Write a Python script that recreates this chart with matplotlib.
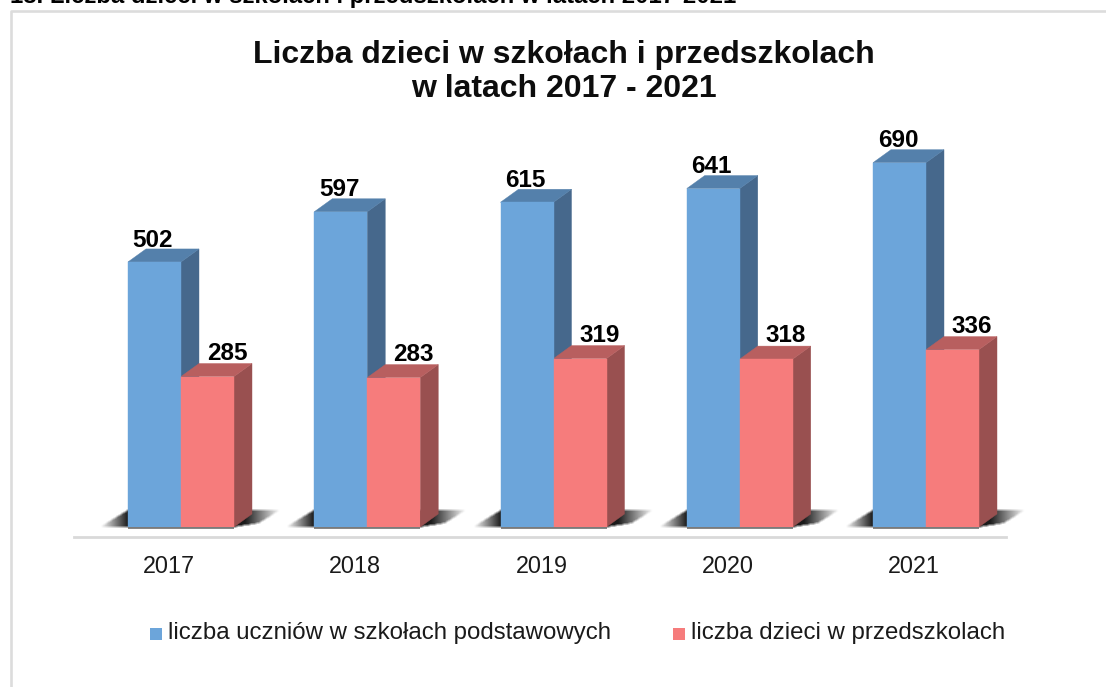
import numpy as np
import matplotlib
matplotlib.use("Agg")
import matplotlib.pyplot as plt
from matplotlib.patches import Polygon, Rectangle
from matplotlib.path import Path
from matplotlib.lines import Line2D

# ----------------------- DATA -----------------------
years = ["2017", "2018", "2019", "2020", "2021"]
uczniowie = [502, 597, 615, 641, 690]
przedszkola = [285, 283, 319, 318, 336]
label_uczniowie = "liczba uczniów w szkołach podstawowych"
label_przedszkola = "liczba dzieci w przedszkolach"
title = "Liczba dzieci w szkołach i przedszkolach\nw latach 2017 - 2021"
cut_heading = "18. Liczba dzieci w szkołach i przedszkolach w latach 2017-2021"

# ----------------------- CONFIG ----------------------
W, H = 1106, 687
px_per_group = 186.25
px_per_unit = 0.528
bar_w = 53 / px_per_group
dx = 18 / px_per_group
dy = 13 / px_per_unit
blue, blue_top, blue_side = "#6ca5da", "#5480ab", "#46688c"
red, red_top, red_side = "#f67c7c", "#b85f5f", "#995050"

plt.rcParams["font.family"] = ["Liberation Sans", "DejaVu Sans"]

fig = plt.figure(figsize=(W / 100, H / 100), dpi=100, facecolor="white")

# axes placed so that group centres and the baseline fall where the chart has them
left = 181 - px_per_group / 2
base_y = 527
top_y = base_y - 800 * px_per_unit
ax = fig.add_axes([left / W, 1 - base_y / H, 5 * px_per_group / W, (base_y - top_y) / H])
ax.axis("off")


def fig_xy(x, y):
    return x / W, 1 - y / H


def draw_bar(x0, v, front, top, side):
    ax.bar(x0, v, width=bar_w, align="edge", color=front, edgecolor=front, linewidth=0.3, zorder=4)
    x1 = x0 + bar_w
    ax.add_patch(Polygon([(x1, 0), (x1 + dx, dy), (x1 + dx, v + dy), (x1, v)],
                         closed=True, fc=side, ec=side, lw=0.3, zorder=3))
    ax.add_patch(Polygon([(x0, v), (x0 + dx, v + dy), (x1 + dx, v + dy), (x1, v)],
                         closed=True, fc=top, ec=top, lw=0.3, zorder=3))


def soften(a, n):
    # box blur along both image axes
    k = np.ones(n) / n
    a = np.apply_along_axis(lambda r: np.convolve(r, k, mode="same"), 0, a)
    return np.apply_along_axis(lambda r: np.convolve(r, k, mode="same"), 1, a)


def draw_shadow(i):
    # soft floor shadow behind one pair of bars, built on a pixel grid around the pair
    x_px = np.arange(-90, 120)
    y_px = np.arange(-24, 6)
    gx, gy = np.meshgrid(x_px + 0.5, y_px + 0.5)
    outline = Path([(-81, 0), (-53, -17), (99, -17), (78, -4), (53, 0)])
    mask = outline.contains_points(np.c_[gx.ravel(), gy.ravel()]).reshape(gx.shape).astype(float)
    fade_l = np.clip((gx + 81) / 28, 0, 1)
    fade_r = np.clip((100 - gx) / 36, 0, 1)
    alpha = soften(mask, 3) * 0.9 * fade_l * fade_r
    img = np.zeros(alpha.shape + (4,))
    img[..., 3] = alpha
    ext = (i + x_px[0] / px_per_group, i + (x_px[-1] + 1) / px_per_group,
           -(y_px[-1] + 1) / px_per_unit, -y_px[0] / px_per_unit)
    ax.imshow(img, extent=ext, origin="upper", aspect="auto", zorder=1,
              interpolation="bilinear", clip_on=False)
    # grey contact line under the front faces
    ax.plot([i - bar_w, i + bar_w], [-1.5, -1.5], color="#707070", lw=1.2, zorder=2,
            solid_capstyle="butt", clip_on=False)


for i, (a, b) in enumerate(zip(uczniowie, przedszkola)):
    draw_shadow(i)
    draw_bar(i - bar_w, a, blue, blue_top, blue_side)
    draw_bar(i, b, red, red_top, red_side)
    ax.text(i - bar_w / 2 - 0.008, a + dy - 5, str(a), ha="center", va="bottom",
            fontsize=17.5, fontweight="bold", color="black", zorder=6)
    ax.text(i + bar_w / 2 + 0.105, b + dy - 2, str(b), ha="center", va="bottom",
            fontsize=17.5, fontweight="bold", color="black", zorder=6)
    ax.text(i - 0.065, -74, years[i], ha="center", va="center", fontsize=16.8, color="#1a1a1a")

ax.set_xlim(-0.5, 4.5)
ax.set_ylim(0, 800)

# axis line, frame and title are placed on the figure
fig.add_artist(Line2D([74 / W, 1006 / W], [1 - 537 / H] * 2, color="#d9d9d9", lw=2))
fig.add_artist(Line2D([10.8 / W, 10.8 / W, 1], [0, 1 - 11.3 / H, 1 - 11.3 / H],
                      color="#dcdcdc", lw=1.9))

fig.text(*fig_xy(564, 72), title, ha="center", va="center", fontsize=23, fontweight="bold",
         color="#0d0d0d", linespacing=1.17)
fig.text(*fig_xy(10, 3.5), cut_heading, ha="left", va="baseline", fontsize=17.2, fontweight="bold",
         color="black")

# legend
for x, c, s, tx in [(150, blue, label_uczniowie, 168), (673, red, label_przedszkola, 691)]:
    fig.add_artist(Rectangle(fig_xy(x, 640), 12 / W, 12.5 / H, transform=fig.transFigure,
                             fc=c, ec="none"))
    fig.text(*fig_xy(tx, 633), s, ha="left", va="center", fontsize=17.25, color="#1a1a1a")

fig.savefig("out.png", dpi=100)
